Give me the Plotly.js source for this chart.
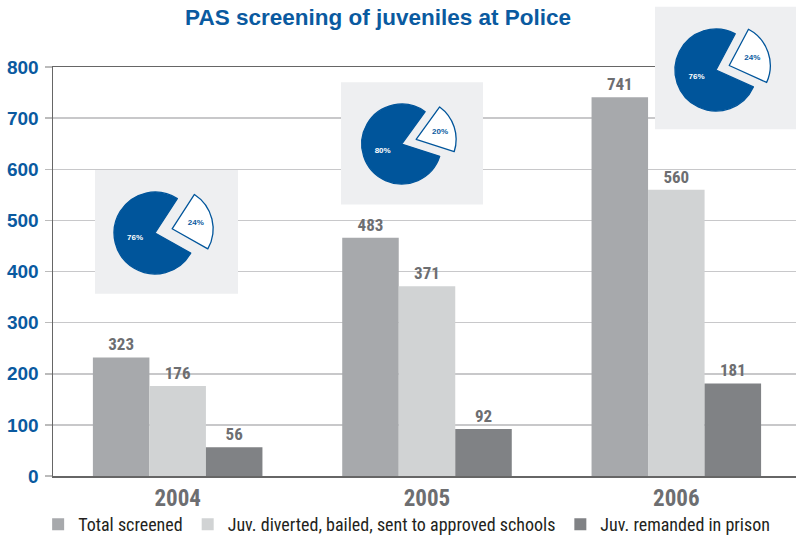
<!DOCTYPE html>
<html>
<head>
<meta charset="utf-8">
<script src="https://cdn.plot.ly/plotly-3.0.1.min.js"></script>
<style>
  html, body { margin: 0; padding: 0; background: #ffffff; }
  #chart { width: 796px; height: 538px; }
</style>
</head>
<body>
<div id="chart"></div>
<script>
// ---- data ----
const years = ['2004', '2005', '2006'];
const seriesNames = ['Total screened', 'Juv. diverted, bailed, sent to approved schools', 'Juv. remanded in prison'];
// bar heights as drawn in the picture
const totalScreened = [232, 466, 741];
const diverted = [176, 371, 560];
const remanded = [56, 92, 181];
// value labels as printed above the bars
const totalLabels = ['323', '483', '741'];
const divertedLabels = ['176', '371', '560'];
const remandedLabels = ['56', '92', '181'];
// inset pies: [share pulled out, remaining share]
const pieShares = [[24, 76], [20, 80], [24, 76]];
const pieTexts = [['24%', '76%'], ['20%', '80%'], ['24%', '76%']];
const yTicks = [0, 100, 200, 300, 400, 500, 600, 700, 800];

// ---- style ----
const BLUE = '#0a5aa0';
const PIEBLUE = '#00559b';
const GREY_TXT = '#6d6e71';
const WIDE = '"Liberation Sans", Arial, sans-serif';
const NARROW = '"Roboto Condensed", Roboto, "Liberation Sans Narrow", sans-serif';
const barColors = ['#a7a9ac', '#d1d3d4', '#808285'];

const barSeries = [totalScreened, diverted, remanded];
const barLabels = [totalLabels, divertedLabels, remandedLabels];

const traces = barSeries.map((vals, i) => ({
  type: 'bar',
  name: seriesNames[i],
  x: years,
  y: vals,
  text: barLabels[i],
  textposition: 'outside',
  constraintext: 'none',
  cliponaxis: false,
  textfont: { family: NARROW, size: 17, color: GREY_TXT, weight: 'bold' },
  marker: { color: barColors[i], line: { width: 0 } },
  hoverinfo: 'x+y+name'
}));

// empty trace on overlay subplot that carries the inset backgrounds
traces.push({ type: 'scatter', x: [], y: [], xaxis: 'x2', yaxis: 'y2', showlegend: false, hoverinfo: 'skip' });

// pie geometry (plot-area fractions)
const pieDomains = [
  { x: [0.0584, 0.2162], y: [0.3874, 0.6336] },
  { x: [0.3950, 0.5436], y: [0.5815, 0.8134] },
  { x: [0.8183, 0.9664], y: [0.7374, 0.9685] }
];
const piePull = [0.43, 0.38, 0.34];
const pieRot = [33, 36, 28];

pieShares.forEach((vals, i) => {
  traces.push({
    type: 'pie',
    values: vals,
    text: pieTexts[i],
    textinfo: 'text',
    textposition: 'inside',
    insidetextorientation: 'horizontal',
    textfont: { family: WIDE, size: 8, weight: 'bold', color: [BLUE, '#ffffff'] },
    sort: false,
    direction: 'counterclockwise',
    rotation: pieRot[i],
    pull: [piePull[i], 0],
    marker: { colors: ['#ffffff', PIEBLUE], line: { color: PIEBLUE, width: 1.3 } },
    domain: pieDomains[i],
    showlegend: false,
    hoverinfo: 'text'
  });
});

// inset grey boxes (fractions of plot area)
const boxes = [
  [0.0565, 0.2490, 0.3830, 0.6428],
  [0.3876, 0.5787, 0.5706, 0.8271],
  [0.8102, 1.0000, 0.7286, 0.9859]
];
const shapes = boxes.map(b => ({
  type: 'rect', xref: 'x2', yref: 'y2', layer: 'below',
  x0: b[0], x1: b[1], y0: b[2], y1: b[3],
  fillcolor: '#eeeff1', line: { width: 0 }
}));

const layout = {
  width: 796, height: 538,
  margin: { l: 53, r: 0, t: 0, b: 62, autoexpand: false },
  paper_bgcolor: '#ffffff',
  plot_bgcolor: 'rgba(0,0,0,0)',
  title: {
    text: 'PAS screening of juveniles at Police',
    font: { family: WIDE, size: 22.5, color: BLUE, weight: 'bold' },
    x: 0.475, xanchor: 'center', y: 0.968, yanchor: 'middle'
  },
  barmode: 'group',
  bargap: 0.32,
  bargroupgap: 0,
  xaxis: {
    type: 'category',
    range: [-0.5, 2.48],
    showgrid: false,
    showline: true, linecolor: '#666666', linewidth: 1.5,
    mirror: true,
    ticks: '',
    ticklabelstandoff: 1,
    tickfont: { family: NARROW, size: 23, color: GREY_TXT, weight: 'bold' },
    fixedrange: true
  },
  yaxis: {
    domain: [0, 409 / 476],
    range: [0, 800],
    tickvals: yTicks,
    showgrid: true, gridcolor: '#c8c8ca', gridwidth: 1.5,
    zeroline: false,
    showline: true, linecolor: '#666666', linewidth: 1.5,
    ticks: 'outside', ticklen: 7, tickcolor: '#bbbbbb', tickwidth: 1.5,
    ticklabelstandoff: 2,
    tickfont: { family: WIDE, size: 19, color: BLUE, weight: 'bold' },
    fixedrange: true
  },
  xaxis2: { domain: [0, 1], range: [0, 1], anchor: 'y2', visible: false, fixedrange: true },
  yaxis2: { domain: [0, 1], range: [0, 1], anchor: 'x2', visible: false, fixedrange: true },
  shapes: shapes,
  showlegend: true,
  legend: {
    orientation: 'h',
    x: -0.020, xanchor: 'left',
    y: -0.102, yanchor: 'middle',
    font: { family: NARROW, size: 18, color: '#231f20' },
    itemwidth: 30,
    traceorder: 'normal',
    bgcolor: 'rgba(0,0,0,0)'
  }
};

Plotly.newPlot('chart', traces, layout, { displayModeBar: false, staticPlot: true });
</script>
</body>
</html>
